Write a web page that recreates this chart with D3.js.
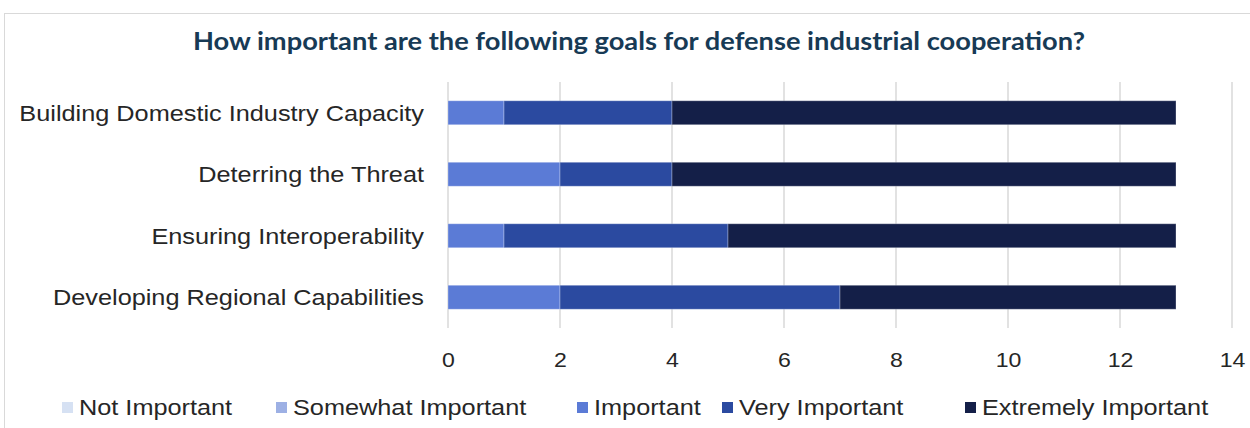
<!DOCTYPE html>
<html>
<head>
<meta charset="utf-8">
<script src="https://cdn.jsdelivr.net/npm/d3@7"></script>
<style>
  body { margin: 0; background: #fff; }
  text { font-family: "Liberation Sans", Arial, sans-serif; fill: #262626; }
</style>
</head>
<body>
<script>
// data
var categories = ["Building Domestic Industry Capacity", "Deterring the Threat", "Ensuring Interoperability", "Developing Regional Capabilities"];
var seriesNames = ["Not Important", "Somewhat Important", "Important", "Very Important", "Extremely Important"];
var notImportant = [0, 0, 0, 0];
var somewhatImportant = [0, 0, 0, 0];
var important = [1, 2, 1, 2];
var veryImportant = [3, 2, 4, 5];
var extremelyImportant = [9, 9, 8, 6];
var xTicks = [0, 2, 4, 6, 8, 10, 12, 14];
var colors = ["#d6e1f3", "#9db0e4", "#5b7bd6", "#2b4aa0", "#141f48"];

var title = "How important are the following goals for defense industrial cooperation?";

function init(){
    var W = 1250, H = 428;
    var left = 448, right = 1232, top = 82, bottom = 328;
    var stretch = 1.15; // the source text is a bit wider than plain Arial

    var svg = d3.select("body").append("svg")
        .attr("width", W)
        .attr("height", H);

    // outer frame
    svg.append("rect")
        .attr("x", 4.5).attr("y", 13.5)
        .attr("width", 1300).attr("height", 500)
        .attr("fill", "none")
        .attr("stroke", "#d9d9d9")
        .attr("stroke-width", 1);

    svg.append("text")
        .attr("x", 639).attr("y", 50)
        .attr("text-anchor", "middle")
        .attr("textLength", 892)
        .attr("lengthAdjust", "spacingAndGlyphs")
        .style("font-family", "Lato, 'Open Sans', sans-serif")
        .style("font-weight", "bold")
        .style("font-size", "25px")
        .style("fill", "#173a55")
        .text(title);

    var x = d3.scaleLinear().domain([0, 14]).range([left, right]);
    var y = d3.scaleBand().domain(categories).range([top, bottom]).paddingInner(0.61).paddingOuter(0.305);

    // gridlines
    svg.append("g").selectAll("line")
        .data(xTicks)
        .enter()
        .append("line")
        .attr("x1", function(d){ return x(d); })
        .attr("x2", function(d){ return x(d); })
        .attr("y1", top)
        .attr("y2", bottom)
        .attr("stroke", "#d9d9d9")
        .attr("stroke-width", 1.5);

    // stack the series
    var rows = categories.map(function(c, i){
        return {
            cat: c,
            "Not Important": notImportant[i],
            "Somewhat Important": somewhatImportant[i],
            "Important": important[i],
            "Very Important": veryImportant[i],
            "Extremely Important": extremelyImportant[i]
        };
    });
    var stacked = d3.stack().keys(seriesNames)(rows);

    svg.append("g").selectAll("g")
        .data(stacked)
        .enter()
        .append("g")
        .attr("fill", function(d, i){ return colors[i]; })
        .selectAll("rect")
        .data(function(d){ return d; })
        .enter()
        .append("rect")
        .filter(function(d){ return d[1] > d[0]; })
        .attr("x", function(d){ return x(d[0]); })
        .attr("y", function(d){ return y(d.data.cat); })
        .attr("width", function(d){ return x(d[1]) - x(d[0]); })
        .attr("height", y.bandwidth())
        .attr("stroke", "#ffffff")
        .attr("stroke-opacity", 0.3)
        .attr("stroke-width", 1);

    // category labels
    svg.append("g").selectAll("text")
        .data(categories)
        .enter()
        .append("text")
        .attr("transform", function(d){
            return "translate(424," + (y(d) + y.bandwidth() / 2) + ") scale(" + stretch + ",1)";
        })
        .attr("dy", "0.36em")
        .attr("text-anchor", "end")
        .style("font-size", "22px")
        .text(function(d){ return d; });

    // x axis labels
    var xAxis = d3.axisBottom(x).tickValues(xTicks).tickSize(0).tickPadding(0);
    var ax = svg.append("g")
        .attr("transform", "translate(0," + 367 + ")")
        .call(xAxis);
    ax.select(".domain").remove();
    ax.selectAll("text")
        .attr("y", 0)
        .attr("dy", 0)
        .style("font-size", "21px")
        .style("font-family", "'Liberation Sans', Arial, sans-serif")
        .attr("fill", "#262626")
        .attr("transform", "scale(1.1,1)");

    // legend
    var legendX = [62, 276, 577, 722, 965];
    var lg = svg.append("g").selectAll("g")
        .data(seriesNames)
        .enter()
        .append("g")
        .attr("transform", function(d, i){ return "translate(" + legendX[i] + ",407)"; });
    lg.append("rect")
        .attr("x", 0).attr("y", -5)
        .attr("width", 11).attr("height", 11)
        .attr("fill", function(d, i){ return colors[i]; });
    lg.append("text")
        .attr("transform", "translate(17,0) scale(" + stretch + ",1)")
        .attr("dy", "0.36em")
        .style("font-size", "22px")
        .text(function(d){ return d; });
}
window.onload = init;
</script>
</body>
</html>
